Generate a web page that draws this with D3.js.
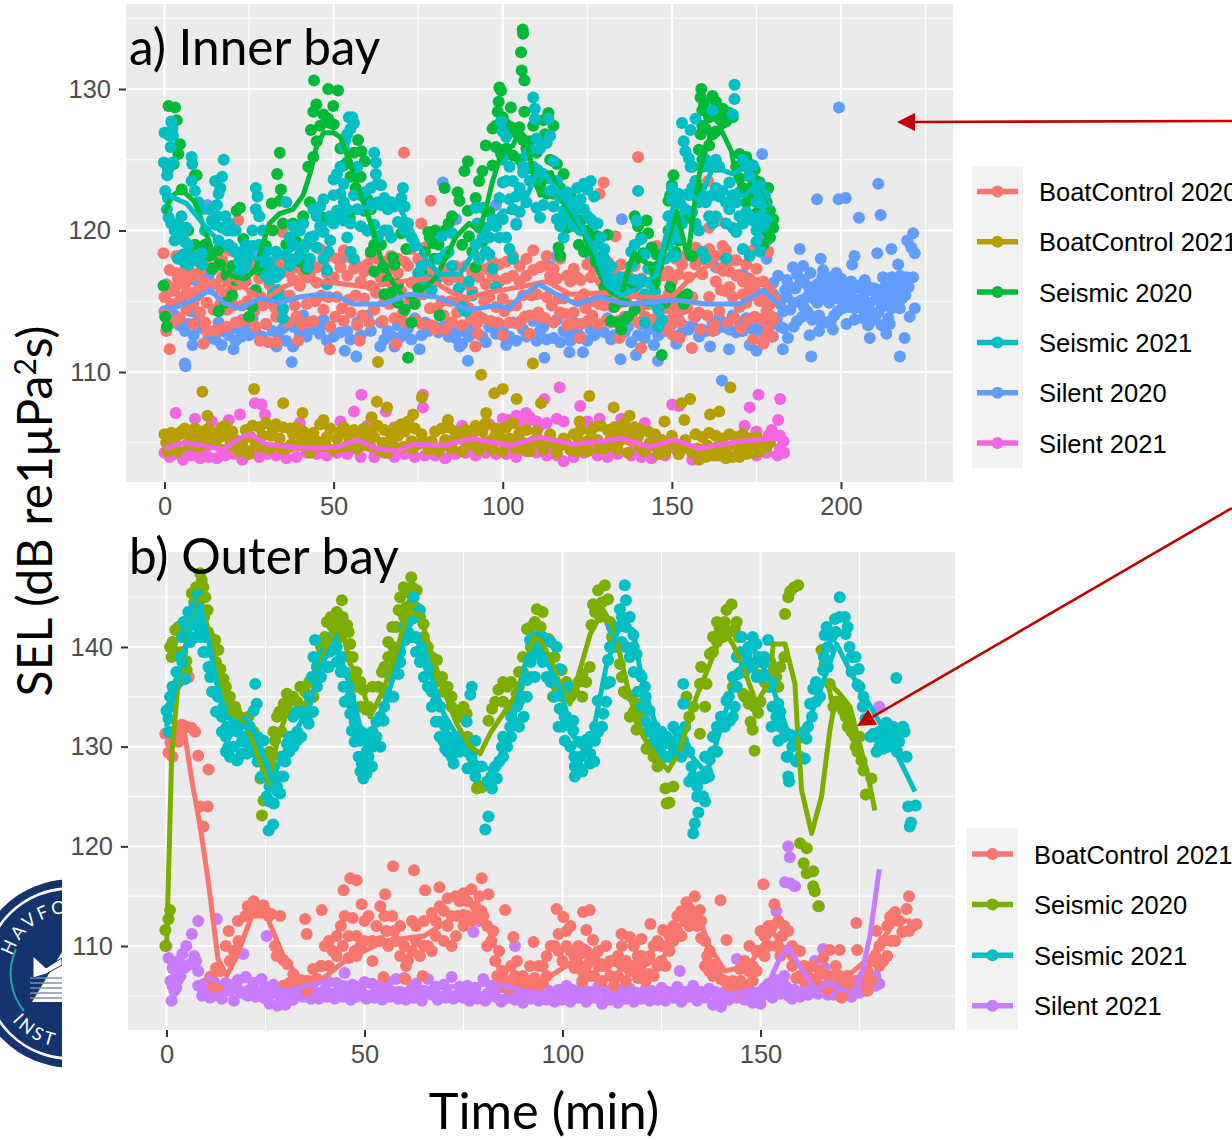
<!DOCTYPE html>
<html lang="en">
<head>
<meta charset="utf-8">
<title>SEL over time, inner and outer bay</title>
<style>
  html, body { margin: 0; padding: 0; background: #fff; overflow: hidden; }
  svg { display: block; }
  .tick text { font-family: "Liberation Sans", Arial, sans-serif; fill: #4d4d4d; }
  .big { font-family: Lato, "Open Sans", sans-serif; fill: #000; }
  .leg { font-family: "Liberation Sans", Arial, sans-serif; fill: #000; font-size: 25.5px; }
</style>
</head>
<body>
<script src="https://cdn.jsdelivr.net/npm/d3@7"></script>
<script>
// tick labels
var innerXTicks = [0, 50, 100, 150, 200], innerXMinor = [25, 75, 125, 175, 225];
var innerYTicks = [110, 120, 130], innerYMinor = [105, 115, 125, 135];
var outerXTicks = [0, 50, 100, 150], outerXMinor = [25, 75, 125, 175];
var outerYTicks = [110, 120, 130, 140], outerYMinor = [105, 115, 125, 135, 145];

// legend labels
var innerCategories = ["BoatControl 2020", "BoatControl 2021", "Seismic 2020", "Seismic 2021", "Silent 2020", "Silent 2021"];
var innerColours = ["#F8766D", "#B79F00", "#00BA38", "#00BFC4", "#619CFF", "#F564E3"];
var outerCategories = ["BoatControl 2021", "Seismic 2020", "Seismic 2021", "Silent 2021"];
var outerColours = ["#F8766D", "#7CAE00", "#00BFC4", "#C77CFF"];

// a) Inner bay, points as [min, dB]
var innerSilent21 = [[3.3,107.1],[9,106.7],[26.7,107.8],[28.7,107.7],[29.7,107],[22.3,107],[58.2,108.4],[56,107.2],[65.4,107.2],[76.4,108.4],[76.4,107.5],[106.9,107.1],
[116.8,108.9],[112.3,108.1],[122.9,107.6],[128.6,106.7],[135,106.7],[150.1,107.7],[152.1,107.6],[175.6,108.4],[182,108.1],[173,107.5],[181.4,106.6],[171.5,106.2],[175,105.8],[178.5,105.5],
[182,105.5],[183,105.1],[182,104.6],[183.2,104.3],[181.2,104.1],[179.5,105.9],[0,104.3],[1.5,104],[3,104.2],[5.5,103.8],[8,104.1],[10.5,103.9],[13,104],[15.5,103.9],[18,104.1],[20.5,104.2],
[23,103.8],[25.5,104.3],[28,104],[30.5,104.2],[33,104.1],[36,103.9],[39,104],[42,104.3],[45,104.2],[48,104.1],[51,104.3],[54,104.2],[58,104],[62,104],[65,104.3],[68,104],[71,104.2],[74,104],
[77,104.1],[80,104.1],[83,103.9],[86,104.2],[89,104.3],[92,104.1],[95,104.3],[98,104.2],[101,104.2],[104,104],[107,104.4],[110,104.3],[113,104.1],[116,104.1],[118,103.7],[121,104],[124,104.3],
[128,104.1],[131,104],[134,104.2],[138,104.1],[141,104],[144,103.9],[148,104.1],[152,104.2],[156,103.8],[159,104.2],[163,104.1],[167,104],[171,104.2],[175,104.1],[178,104.3],[40,106.4],[52,106.5],
[60,106.2],[68,106.1],[88,106.2],[96,106.3],[102,106.6],[105,106.3],[108,106.8],[110,106.5],[113,106.4],[118,106.5],[125,106.5],[142,106.4],[19,106.6],[14,106.5],[6,105.8],
[2,104.6],[7,104.5],[12,104.6],[17,104.5],[22,104.7],[27,104.6],[32,104.5],[37,104.7],[44,104.6],[50,104.5],[56,104.6],[61,104.7],[67,104.5],[72,104.6],[79,104.7],[85,104.5],[91,104.6],[97,104.7],[103,104.6],[109,104.5],[115,104.7],[120,104.5],[126,104.6],[133,104.5],[139,104.6],[146,104.5],[151,104.6],[158,104.5],[165,104.6],[170,104.5],[177,104.8],[104,106.9],[100,106.7],[107,106.5],[111,106.2],[116,106.7]];
var innerBoat20 = [[11.2,108.6],[26.5,108.8],[35.1,107.8],[12.7,106.9],[40.8,107.1],[63.1,110.7],[62.8,107.9],[65.8,107.5],[61.2,106.8],[76.1,108.2],[73.5,107],[93.6,109.8],[97.5,108.5],[100,108.8],[104.1,108.1],
[95.1,107.1],[83.8,106.6],[108.9,110.6],[125.6,108.3],[132.8,107.5],[137.5,106.9],[122.7,106.5],[167.3,108.9],[161.3,107],[164,107.2],[155.4,108.1],[152.8,107.8],[147.8,106.5],[153.7,106.6],[111.3,107.8],
[0,105.6],[0.5,105],[1,104.4],[2,105.7],[3,105.1],[4,104.4],[5,105.8],[6,106],[7,105],[8,105.4],[9,106],[10,104.7],[11,105.8],[12,105.3],[13,106],[14,105.6],[15,105],[16,105.8],[17,106.1],[18,106.2],[19,105.4],
[20,105.8],[22,104.4],[24,105.9],[25,104.2],[26,106.2],[27,105],[28,106.1],[29,105.5],[30,106.4],[31,104.6],[32,105.9],[33,106.3],[34,105.3],[35,106.1],[36,104.6],[37,106],[38,105.6],[39,106.1],[40,104.9],[41,105.8],
[43,104.3],[45,105.1],[46,106.3],[47,106.6],[48,105.4],[49,106],[50,104.5],[52,105.8],[53,106.1],[54,104.8],[55,105.5],[56,105.9],[57,104.6],[58,105.7],[59,106],[60,104.9],[61,105.8],[62,105.4],[63,106.2],[64,104.4],
[65,105.9],[66,104.3],[67,105.4],[68,106],[69,105.5],[70,106.3],[71,105.8],[72,106.5],[73,105.1],[74,106],[75,104.9],[76,105.6],[78,104.5],[80,105.8],[81,104.4],[82,106],[83,105.2],[84,106.1],[85,104.6],[86,105.8],[87,105.4],
[88,104.4],[89,105.9],[90,104.9],[91,105.6],[92,106.2],[93,104.5],[94,105.8],[95,106.4],[96,105.1],[97,104.5],[98,106],[99,105.5],[100,104.4],[101,106.1],[102,105.3],[103,106.4],[104,104.6],[105,105.7],[106,105],[107,105.9],
[108,104.4],[110,105.8],[112,104.5],[114,105.6],[116,104.3],[118,105.3],[120,104.5],[121,105.6],[122,104.4],[123,105.9],[124,105],[125,104.4],[126,105.8],[127,106.1],[128,105.2],[129,106.2],[130,104.6],[131,105.9],[132,105.4],
[133,106.1],[134,104.5],[135,105.7],[136,106.4],[137,104.3],[138,105.9],[139,106.1],[140,105.4],[141,105.9],[142,104.4],[143,105.8],[144,104.8],[145,105.6],[146,104.2],[147,105.2],[148,104.3],[150,105.5],[152,104.2],[154,105.2],
[156,104.3],[157,105.6],[158,103.8],[159,105.4],[160,104],[161,105.7],[162,104.1],[163,105.5],[164,104.1],[165,105.3],[166,103.9],[167,105.6],[168,104],[169,105.4],[170,104],[171,105.6],[172,104.2],[173,105.3],[174,104.3],[175,105.4],[176,104.4],[177,105],[178,104.7],[179,105],
[1.5,105.3],[4.5,105.6],[7.5,105.8],[10.5,105.2],[13.5,105],[16.5,105.4],[19.5,104.9],[21,105.2],[23,105],[25.5,105.4],[28.5,104.7],[31.5,105.5],[34.5,104.6],[37.5,104.9],[40.5,105.5],[42,105.2],[44,105.7],[47.5,105],[51,105.3],[54.5,105.4],[57.5,105.1],[60.5,105.2],[64.5,105],[67.5,104.8],[70.5,104.7],[73.5,104.6],[77,105],[79,105.1],[82.5,104.8],[85.5,105.2],[88.5,105.2],[91.5,104.8],[94.5,105],[97.5,105.4],[100.5,105.1],[103.5,105.2],[106.5,104.5],[109,105.1],[111,105],[113,105.1],[115,105],[117,104.8],[119,104.9],[122.5,105.2],[125.5,105.2],[128.5,104.6],[131.5,104.9],[134.5,105.1],[137.5,105.2],[140.5,104.7],[143.5,105],[146.5,105],[149,104.8],[151,104.9],[153,104.6],[155,104.6],[157.5,104.6],[160.5,104.8],[163.5,104.7],[166.5,104.7],[169.5,104.7],[172.5,104.7],[175.5,104.8]];
var innerSilent20 = [[199.4,128.7],[192.9,122.2],[199.3,122.2],[201.4,122.3],[211,123.3],[205.3,120.9],[211.7,121.1],[221.3,119.8],[219.6,119.3],[220.8,118.8],[221.8,118.4],[214.9,118.7],[210.7,118.4],[216.9,117.6],[204,118.2],[203.3,117.6],
[194,118],[187.8,118.7],[188.8,117.5],[185.8,117.4],[194.7,117.2],[181.4,116.8],[198.6,117],[207,116.5],[212.4,116.7],[215,116.7],[217.5,116.8],[219.5,116.7],[221.3,116.7],[220,116],[218,116],[219,115.4],[216.5,115.5],[221.8,114.5],[220.3,113.9],
[217.4,114.5],[214.4,113.4],[213.4,112.7],[218.8,112.4],[217.4,111.1],[208.5,112.4],[201.6,113.4],[197.6,113],[193.5,112.9],[190.7,112.6],[191.2,111.1],[182.8,111.6],[184.3,112.4],[179.9,112.5],[175,111.5],[173,111.9],[166.9,111.6],[161.3,111.8],
[164.8,109.4],[151.3,112],[145.9,110.8],[144.7,111.9],[139.4,111.2],[134.8,110.9],[123.7,111.4],[119.7,111.4],[112.3,111],[135.2,120.8],[176.7,125.4],[6,110.6],[6.2,110.4],[8.6,112.6],[8.3,111.9],[16.9,111.9],[20.4,111.6],[22.8,112.5],[33.1,111.8],[37.6,110.7],
[38,111.8],[45.9,112.7],[53.3,111.5],[56.7,111.1],[63.8,111.8],[68,111.8],[75.4,111.6],[87.2,111.8],[89.7,110.8],[88.2,112.9],[101,111.9],[82.3,123.4],[86.2,120.8],[98,121.8],[12.7,121.8],
[0,114.3],[0.5,116.2],[1.5,113.5],[3,114],[4.5,113.3],[5,115.2],[7,113.4],[9,116.5],[11,113.1],[12,117],[13,116.8],[14,117.2],[16,113.5],[18,112.9],[20,113.2],[22,113],[24,113.3],[26,113.8],[28,118.5],[30,113.4],[35,113.1],[39,113.5],[41,114],[43,113],[47,113.7],[49,113.2],
[52,117.9],[54,112.9],[57,113.5],[60,114],[62,114.5],[64,113.5],[66,112.9],[70,112.5],[72,113.1],[74,113.8],[78,112.9],[80,113.2],[83,113.4],[85,113],[90,112.5],[93,113.9],[96,113.2],[99,113.4],[103,113.5],[106,113],[109,113.6],[112,113.2],[114,117.5],[116,113.7],[118,112.9],
[121,113.5],[123,112.5],[126,113],[128,112.8],[131,113.8],[133,112.6],[136,112.8],[138,112.1],[141,113.4],[143,113],[147,113.4],[149,113.6],[152,113.7],[154,113.2],[157,113.9],[159,113],[162,113.5],[164,113.8],[168,114],[170,113.5],[172,113.8],[174,113],[176,112.9],[177,113.8],
[178,114.9],[179,113.3],[180,115.5],[181,113.8],[182,114.8],[183,113.1],[183.5,115.8],[184,116.5],[185,114.4],[186,113.2],[186.5,115.9],[187,116.9],[188,115],[188.5,113.9],[189,116.5],[190,114.3],[190.5,116],[191,117],[191.5,113.7],[192,115.2],[193,116.2],[193.5,114],[194,115.7],
[194.5,116.7],[195,115.2],[195.5,113.5],[196,116.2],[196.5,114.9],[197,116.7],[197.5,115.4],[198,114],[198.5,116],[199,115.2],[200,115.9],[200.5,114.5],[201,116],[202,115.3],[202.5,114.6],[203,115.6],[204,113.7],[204.5,115],[205,116.1],[206,114.9],[206.5,113.8],[207,115.6],[208,113.3],
[208.5,114.9],[209,115.9],[210,113.7],[210.5,115.2],[211,114.2],[212,113.3],[212.5,115.5],[213,116],[214,113.8],[214.5,115.6],[215,114.5],[216,116.2],[216.5,115],[217,116.4],[218,115.2],[166,117.5],[178,118],[176.5,119.6],[178,119.3],[104,120.5],[116,118.2],[126,118.1],[171,116.9],[163,117.4],[127,119.7],
[2,114],[4,114.9],[6,112.9],[8,114.3],[10,113.7],[13,112.4],[15,112.3],[17,112.9],[19,112.6],[21,112.2],[23,113.7],[25,112.6],[27,112.8],[29,112.5],[32,112.9],[34,112.4],[36,112.2],[38,113.2],[40,112.7],[42,112.5],[44,113.4],[46,113.2],[48,112.2],[50,112.5],[52,112.8],[55,112.3],[58,112.6],[61,112.9],[65,112.3],[67,112.6],[69,113.3],[71,112.7],[73,112.3],[76,112.6],[77,113.5],[81,112.8],[84,112.5],[86,112.4],[88,112],[91,113],[94,112.5],[95,112.1],[98,112.7],[100,113],[102,112.5],[104,112.2],[107,112.5],[110,112.2],[111,112.9],[113,112.3],[115,112.4],[117,112.1],[119,112.8],[120,112.2],[122,112.8],[125,112.2],[127,112.6],[130,112.8],[132,112.3],[135,113.6],[137,113.2],[140,112.6],[142,112.4],[144,113.1],[146,112.6],[148,112.9],[150,113.4],[153,112.8],[155,113],[156,113.3],[158,112.5],[160,112.9],[163,113],[165,113.2],[167,113],[169,112.8],[171,112.9],[173,113.3],[175,113.3],
[180,116.3],[181,115.2],[182,113.2],[183,114.3],[184,115.3],[185,116],[186,114.9],[187,113.6],[188,116.3],[189,114.6],[190,115.3],[191,115.8],[192,113.9],[193,114.9],[194,113.6],[195,116.3],[196,115.4],[197,113.6],[198,116.6],[199,114.3],[200,116.6],[201,114.9],[202,116.2],[203,116.4],[204,114.5],[205,115.1],[206,115.9],[207,114.2],[208,116],[209,114.2],[210,115.9],[211,115.4],[212,114.6],[213,114.8],[214,115],[215,115.7],[216,114.7],[217,115.5],[218,116.5],[219,116.4]];
var innerBoat21 = [[-0.3,118.4],[1.5,111.6],[70.8,125.5],[78.7,122.1],[75.9,120.5],[21.8,120.7],[17.4,120.2],[34.9,119.9],[48.9,111.6],[39.5,112.2],[28.2,112.2],[30.7,112.1],[33.1,112.1],[11.5,112],[57.7,112.2],[68.5,112],[92.6,112.7],[91.9,111.8],[100,112.6],[107.9,112.7],[105.4,113.6],
[140,125.2],[129.8,123.4],[128.6,122.6],[133.3,119.6],[160.7,123.5],[163.7,120.7],[161,120.2],[145.4,118.9],[166,118.6],[167.5,117.9],[172,117.6],[174,118.6],[122.7,112.4],[134.5,112.4],[140.9,111.7],[155.9,111.7],[162.1,112.9],[174,112.3],[177,112],[150.3,112.6],[152.3,112.4],[150.1,113.5],
[0,115.3],[0.5,112.9],[1,116.1],[2,114.8],[3,115.9],[3.5,118.2],[4,116.6],[4.5,115],[5,117],[6,116.2],[6.5,114.4],[7,117.4],[7.5,118.6],[8,115.5],[8.5,113.4],[9,116.9],[10,115.4],[11,118.8],[11.5,116.4],[12,113.5],[12.5,112.9],[13,115.9],[14,117.4],[14.5,112.9],[15,116.2],[16,113],[17,116.7],[18,115.5],
[18.5,113.2],[19,117.2],[20,115.9],[20.5,118.5],[21,113.5],[22,116.2],[23,114.7],[24,116.4],[25,113.7],[26,115.6],[27,113.2],[28,116.6],[29,114.7],[30,113.4],[31,116.2],[32,115.8],[33,113.9],[34,116.9],[35,114.4],[36,117.2],[37,115.4],[38,116.5],[39,113.9],[40,116.1],[41,117],[42,114.8],[43,116.8],[44,113.6],[45,116.3],
[46,118.7],[47,114.4],[48,117],[49,113.2],[50,116.7],[51,115.3],[52,117.4],[53,113.6],[54,116.8],[55,114.2],[56,117.3],[57,113.3],[58,116.4],[59,115.2],[60,117.6],[61,116.1],[62,114.4],[63,118],[64,116.6],[65,115],[66,117.2],[67,116.3],[68,113.8],[69,117],[70,115.7],[71,113.5],[72,117.5],[73,116.3],[74,115.1],[75,116.7],[76,113.4],
[77,117.6],[78,115.9],[79,113.3],[80,113],[81,116.7],[82,115],[83,113],[84,116.5],[85,113.5],[86,117.5],[87,115],[88,113.3],[89,116.2],[90,114.5],[91,115.7],[92,114.2],[93,116.7],[94,113.8],[95,116.2],[96,115.3],[97,117.8],[98,114.6],[99,116.4],[100,115.2],[101,116.6],[102,113.5],[103,116.8],[104,114.7],[105,117.5],[106,115.4],
[107,116.8],[108,114],[109,117.2],[110,115.5],[111,113.9],[112,117.5],[113,115.3],[114,116.8],[115,113.5],[116,116.6],[117,114.2],[118,115.2],[119,113.3],[120,116.4],[121,114.2],[122,116.7],[123,113.4],[124,115.5],[125,113.6],[126,116.7],[127,115],[128,113.4],[129,116.4],[130,114.7],[131,116.5],[132,113.5],[133,115.2],[134,113.6],
[135,116.4],[136,113.9],[137,115.5],[138,114],[139,116.3],[140,113.5],[141,115.3],[142,113.9],[143,114.8],[144,113.7],[145,115.7],[146,113.9],[147,116.8],[148,114.5],[149,115.5],[150,116.4],[151,114.7],[152,116.9],[153,114.4],[154,118.2],[155,116.7],[156,115.3],[157,117.6],[158,114.2],[159,116.9],[160,117.9],[161,115.3],[162,118],
[163,116.4],[164,114.3],[165,117.4],[166,115.7],[167,117.1],[168,115.3],[169,116.8],[170,114.6],[171,116.4],[172,114.9],[173,116.6],[174,115.4],[175,116.3],[176,115],[177,116.4],[178,114.3],[179,115.8],[180,113.7],[180.5,115.1],[179.5,113.9],
[1.5,117.2],[3.5,117],[5.5,118],[7.5,116.7],[9.5,118],[11,117.3],[13,118.3],[15,117.4],[17,117.9],[19,118.6],[21,117.5],[23,116.9],[25,117.1],[27,117.6],[29,116.8],[31,117.2],[33,117.6],[35,117.9],[37,117],[39,117.4],[41,118.2],[43,117.7],[45,117.4],[47,117.6],[49,118.2],[51,118],[53,118.6],[55,118.1],[57,117.5],[59,117.1],[61,118.3],[63,117],[65,117.8],[67,118.2],[69,118],[71,117.8],[73,118.7],[75,118],[77,118.8],[79,117.2],[81,118],[83,117.3],[85,116.8],[87,116.6],[89,117.5],[91,117],[93,118.1],[95,117.3],[97,116.8],[99,117.6],[101,117.8],[103,118.2],[105,116.4],[107,118],[109,118.6],[111,117.4],[113,118.2],[115,117.3],[117,118],[119,116.8],[121,117.3],[123,116.5],[125,117.6],[127,117.2],[129,118.1],[131,117.8],[133,117],[135,117.6],[137,116.8],[139,117.5],[141,116.6],[143,116.3],[145,117],[147,118.2],[149,117.1],[151,118],[153,117.6],[155,118.6],[157,118.8],[159,118],[161,118.7],[163,118.2],[165,118.9],[167,116],[169,117.9],[171,115.5],[173,115.8],[175,117.3],[177,115.4],[179,114.8],
[0.5,114.2],[2.5,113.5],[4.5,113.8],[6.5,115.6],[8.5,114.8],[10.5,114.2],[12.5,114.9],[14.5,114.4],[16.5,114.8],[18.5,114.4],[20.5,114.7],[22.5,113.6],[24.5,115],[26.5,114.3],[28.5,115.3],[30.5,114.9],[32.5,114.6],[34.5,115.5],[36.5,113.5],[38.5,114.7],[40.5,113.4],[42.5,113.5],[44.5,115],[46.5,115.4],[48.5,115.3],[50.5,113.9],[52.5,114.5],[54.5,115.1],[56.5,115.4],[58.5,114],[60.5,113.5],[62.5,115.6],[64.5,113.6],[66.5,114.8],[68.5,115.2],[70.5,114.2],[72.5,115],[74.5,113.6],[76.5,115.5],[78.5,114.5],[80.5,114.5],[82.5,114],[84.5,115],[86.5,114.2],[88.5,114.9],[90.5,113.7],[92.5,113.5],[94.5,115],[96.5,113.6],[98.5,113.5],[100.5,114.3],[102.5,114.7],[104.5,113.4],[106.5,113.9],[108.5,115.4],[110.5,114.2],[112.5,113.8],[114.5,114.7],[116.5,115.2],[118.5,114.1],[120.5,113.4],[122.5,115],[124.5,114.5],[126.5,114],[128.5,114.8],[130.5,113.6],[132.5,114.6],[134.5,114.9],[136.5,115],[138.5,115.6],[140.5,114.5],[142.5,115.2],[144.5,114.8],[146.5,113.2],[148.5,113],[150.5,114],[152.5,113.5],[154.5,114.5],[156.5,113.9],[158.5,113],[160.5,114],[162.5,113.3],[164.5,115.8],[166.5,113.5],[168.5,113.8],[170.5,113.1],[172.5,113.7],[174.5,113.9],[176.5,113.7],[178.5,113],[177.5,112.4],[179.5,112.5],[178.5,118.5]];
var innerSeis20 = [[1.2,128.8],[3.1,128.7],[3.6,127.8],[4.6,126.1],[4.1,125.4],[2.7,124.7],[9,123.9],[5.1,122.9],[-0.3,116.1],[0.2,113.9],[0.7,113.2],[44.2,130.6],[48.4,130],[51.3,129.9],[49.9,128.8],[44.9,128.9],[44,128.4],[48.4,127.9],[48.9,127.6],[43.3,127.1],[42.5,124.5],[44,125.2],[34.1,125.5],[33.3,124],[34.4,122.9],[34.1,122.1],
[22.3,121.6],[21.3,121.4],[31.7,121.9],[46.9,120.9],[54.8,120.9],[57.2,126.4],[58.2,125.6],[59.2,124.9],[9.5,123.9],[7,120],[15.9,118.6],[16.4,117.6],[23.3,119.4],[23,118.4],[18.4,116.8],[9,119],[10,118],[105.9,134.2],[106,133.9],[105.4,132.6],[105.6,131.3],[106.4,130.6],[99,130.1],[99.5,129.9],[98.8,129.1],[98.5,128.4],[102.4,128.7],
[98,127.4],[106.4,128.4],[104.9,127.3],[89.7,124.9],[88.7,124.2],[86.7,122.7],[87.2,122.1],[82.8,123],[89.7,121.4],[78.4,119.5],[78,119.9],[79.5,119.1],[79.8,118],[81.3,114],[73,113.5],[72,111],[74,114.8],[71,114.4],[69,116.2],[71.5,118.7],[70,119.8],[67.5,118.1],[64.6,117.4],
[16,114.3],[18,114.9],[20,115.4],[25,113.9],[26,114.6],[42,117.3],[40,117.8],[39,119.2],[62,117.1],[63,119.6],[66,116.5],[68,117.6],[60,122.2],[61,121.5],[56.5,123],[91,118.5],[92,117.4],[94,119.2],[96,121.3],[97,124.6],[99.5,125.4],[101,125.8],[102.5,127.3],[104,126.9],[107,125.8],[108,126.3],[110,125.5],[112,127.8],[112.5,126.8],
[114,125],[116,124.7],[115,127.4],[113.5,128.3],[118,124],[120,122.5],[122,121.7],[123,120.7],[125.5,119.4],[126,118.9],[127.5,117.8],[128.5,118.1],[129,117.3],[125,120],[119,120.2],[116.5,118.8],[117,118.2],[131,119.7],[132,113.6],[134,113.5],[135,113],[136,113.7],[137,113.9],[139,114.4],[143,119.8],[142.5,120.7],[139,121],
[140,120.3],[141,119.5],[141.5,118.4],[143.6,117.4],[145,116.3],[146,114.5],[147,111.2],[148,114.9],[149.5,116],[152,115.4],[153.5,114.8],[154.5,115.5],[151,118.5],[149,120],[149.5,122.5],[150,123.2],[150.5,123.9],[149,122.1],[156,118.2],[156,124.5],[158,125.7],[158.5,126.8],[159,127.4],[160,127.2],[159,128.5],[158.5,129.4],
[158.7,130],[159.5,129],[162,129.5],[163,129.1],[165,128.6],[166,128.4],[167,128.3],[164,127.9],[168,128],[166,127.7],[161,128],[165,127.6],[160,124.6],[163,124.5],[170,125.4],[172,125.2],[173,124.7],[174.5,124.3],[173,123.9],[175,123.5],[177,122.4],[178,122],[179,121.4],[180,120.8],[180,120.2],[178,120],[179,119.5],[177,119],[175,121.2],
[12,119],[13,118.2],[14,117.3],[20,117.5],[21,116.5],[24,117.7],[27,115.8],[28,117.2],[29,118],[30,118.9],[32,120],[35,120.5],[36,119],[37,118],[38,120.5],[41,121],[43,122],[45,126.3],[46,127.4],[47,128.2],[50,127.5],[52,125.8],[53,124.6],[54,124.8],[55,123.8],[56,125.5],[58,123.8],[59,121.4],[60,120],[61,118.5],[62,119],[64,119],[65,115.5],[67,115.6],[69,114.9],[75,115.9],[76,117],[77,118.5],[80,120],[81,119],[83,120],[84,120.5],[85,121],[88,119],[90,119.6],[92,122.3],[93,123.5],[94,124.2],[95,126],[97,127.2],[98,125.9],[100,128],[101,127.5],[103,125.3],[105,125],[106,126.4],[107.5,124.4],[109,127.4],[110,124],[111,123.5],[113,122.6],[115,122.6],[117,123],[119,122.5],[121,120.6],[122.5,119],[124,118.5],[128,119.6],[130,116],[130.5,115.5],[133,114.6],[136,115],[138,116],[139.5,118],[144,118.8],[145.5,118.3],[146,117.5],[151,120.5],[152,119.3],[155,120.9],[156.5,122.5],[157,123.5],[158,123],[159,125],[161,126],[162,126.8],[163,127],[169,124.5],[170,123.7],[171,123],[172,122],[176,120.5],[177,120.8],[178.5,123],[176,123.4],[174,122.5],[173,122.7]];
var innerSeis21 = [[0,126.9],[1.5,126.7],[2,127.7],[2.3,127.2],[2.5,126.7],[1.8,125.9],[2.4,124.8],[-0.2,124.8],[1,124.3],[0.8,123.9],[0.2,122.8],[1,122.3],[0.7,121.5],[1.2,120.9],[2,120.5],[3,120],[5,121],[5.2,119.7],[6.5,120.2],[8,125.2],[8.2,124.7],[8,123.5],[9,122.8],[10,122],[11,121.5],[3,119.3],[4,118],
[5.5,118.3],[6,117.7],[7,117.6],[11,118.4],[11.2,117.6],[15,120.4],[15.5,121.8],[16,122.6],[16.5,123],[15,123.5],[17,123.8],[17.5,125],[15.6,121],[17,120.2],[18.5,120],[19,119],[20,118.8],[21,118.5],[22,117.8],[22,117],[23,116.8],[24,117.5],[25,118.2],[26,118.9],[27,123],[27.5,122.4],[27,121.5],[28,121],[29,120],
[30,118.5],[31,117.6],[31,116.5],[32,117.2],[33,118.5],[33,116.7],[33.5,115.8],[34,115.2],[35,114.5],[35,113.8],[36,122],[37,119.5],[38,119],[39,118],[40,118.3],[41,118.6],[42,119],[42.5,117.4],[43,118],[44,121.5],[45,121],[46,121.7],[47,122.2],[47,119.9],[48,117.2],[48,116.2],[48.5,118.5],[49,119.3],[50,122.5],[51,124],
[50,123.6],[52,124.5],[53,125.9],[54,126.8],[54.5,128],[55.5,128],[56,127.6],[55,127.2],[53.5,126.4],[53,123.3],[53,122],[54,119.5],[55,118.5],[56,118],[57,124.5],[58,122.5],[60,121.5],[61,121.8],[62,125.5],[62.5,124.8],[62.5,124],[63,123.3],[63,122],[64,121.8],[65,120],[66,120],[67,119.5],[70,122.3],[70.5,123],[71,121.7],
[72,120.5],[73,119.5],[74,118.9],[76,117.5],[77,116.5],[80,116.4],[82,119.6],[84,118.5],[85,117.5],[87,115.9],[88,114.6],[89,114.3],[90,116.4],[91,115.4],[92,121.6],[92.5,120.5],[93,120.2],[94,119.5],[95,118.5],[96,118.3],[97,117.3],[98,116],[100,120.8],[101,119.5],[102,118.7],[103,118],[99.5,127.7],[100,127],[101,126.6],
[100,125],[102,124.5],[103,123.5],[104,122.4],[105,123],[106,124.5],[107,125.3],[108,125.7],[109,129.4],[109.5,128.6],[109.5,127.9],[106,124.1],[110,121.6],[111,120.9],[112,121.8],[113,126.2],[113.5,127.9],[114,126.7],[115,124.9],[116,123.5],[117,122.3],[118,121.4],[119,120.9],[120,122],[121,122],[122,121.5],[123,122.2],
[124,121.5],[125,122.9],[126,123.5],[127,122.4],[128,120.5],[129,119.5],[130,118.7],[130,118],[131,117],[132,116.4],[134,116],[136,115.7],[138,117.5],[139,119],[139.5,120.7],[138,118.5],[140,122.8],[141,119.4],[142,118.3],[143,117.3],[144,116.2],[144,115],[146,114.4],[147,113.7],[142,113.5],[146,113.2],[150,123],[150,122.2],
[149,121],[150,119.5],[151,120],[152,121],[152.5,121.9],[152,122.6],[153,127.6],[153.5,126.3],[154,125.6],[155,125.1],[155.5,124.5],[155.5,127.1],[157,127.9],[156,121.3],[157,120.5],[158,120],[159,118.5],[160,118],[159,122.3],[161,122.4],[162,122.5],[163,123],[161,124.5],[164,122.4],[162,128.5],[167,121.5],[168,120.2],[169,119.9],
[166,118],[170,121],[171,118.7],[168,128.2],[168.5,129.3],[168.5,130.3],[171,125],[172,124.5],[173,123.8],[171,122.7],[174,124.6],[175,122],[176,122.4],[177,121.8],[178,121.7],[174,120.7],[175,120],[175,119.2],[176,118.5],[173,118.2],[177.5,122.5],[176,123.2],
[4,120.5],[6,119.2],[7,119],[8,118.2],[9,118],[10,117.8],[12,120],[13,121.5],[14,120.7],[16,119.3],[18,121],[19,120.5],[20,120],[21,120],[23,118.5],[24,119],[26,120],[28,119],[29,117.8],[30,116.8],[32,115.5],[34,117],[36,118.3],[37,117.5],[38,120.3],[39,120],[40,120],[41,120.5],[43,119.5],[44,119.6],[45,118.8],[46,120.3],[47,118],[49,121],[50,120.5],[51,121.4],[52,122.6],[53,120.7],[54,121.5],[55,120.5],[56,122.5],[57,121.5],[58,120.3],[59,122.7],[60,120],[61,123],[62,120.4],[63,119.5],[64,123.2],[65,122.3],[66,121.5],[67,122],[68,121.7],[69,120.6],[70,120.5],[71,120],[75,117],[78,116.5],[79,115.8],[81,118],[83,118.3],[85,119.8],[92,119],[93,118],[94,121.6],[95,120.2],[96,119.5],[97,120.8],[98,120.3],[99,119.5],[99,122.3],[100,123.4],[101,123.5],[102,122.2],[103,121.5],[104,120.4],[105,121.3],[106,122.5],[107,122],[108,123.5],[109,124.5],[110,126.5],[111,125.8],[111,123.2],[112,124],[113,123.7],[114,122.8],[115,121.7],[116,120.8],[117,120.3],[118,119.5],[119,122.7],[120,120.8],[121,120.3],[122,123],[123,120],[124,123.3],[125,121],[126,120.8],[127,120.5],[128,119],[129,117.8],[130,117],[132,117.5],[133,116.5],[135,116.7],[137,116.6],[139,116.5],[141,116.5],[142,115.5],[143,115],[145,115.7],[148,118],[149,119],[150,118.2],[151,118.2],[152,119.5],[153,120.5],[154,121.5],[155,122.5],[156,123],[157,123.5],[158,122],[159,124.5],[160,125],[160,122],[161,121],[162,120.5],[163,121],[163,125],[164,124.5],[165,122.8],[166,122],[166,120.5],[167,123.4],[168,122.5],[169,122],[170,122.7],[171,120.5],[172,121.3],[173,121],[174,123],[175,123],[176,121],[177,120.3],[178,120.8]];
var innerBoat20Line = [[0,104.4],[10,104.7],[20,104.6],[30,104.7],[40,104.6],[50,104.5],[60,104.6],[65,104.3]];
var innerBoat21Line = [[0,115.5],[5,115.5],[10,116],[15,115.5],[20,116.7],[25,115.7],[30,115.2],[35,116],[40,116.5],[50,116.3],[60,116],[70,116.4],[78,116.6],[85,115.6],[90,115.2],[95,115.6],[100,115.8],[105,116],[113,116.4],[120,115.5],[130,115.6],[140,115.3],[150,115.3],[155,116.5],[161,117.6],[165,116.9],[170,117.1],[175,116],[179,114.4]];
var innerSeis20Line = [[0,121.2],[2,122.4],[5,122.9],[9,122],[12,120],[15,118],[18,117],[21,116.7],[24,116.6],[27,117.3],[29,119],[31,120.5],[34,121.2],[38,121.5],[41,122.5],[43,124],[45,126],[47,126.9],[50,126.9],[52,126.6],[55,124.6],[58,122.5],[61,120.5],[64,118],[67,116.5],[70,115.5],[73,115.2],[77,116],[80,116.6],[83,118],[86,119.5],[90,120.5],[93,120],[95,121.5],[97,123.5],[99,125],[101,125.7],[103,126],[105,127],[107,126.5],[109,124],[111,122.5],[113,124],[114.3,124.1],[117.3,122.2],[123.7,120],[125.7,118.6],[128.6,116.9],[132,115.6],[135,115.3],[137.5,117.6],[138.9,118.4],[141,117.9],[143.4,117.6],[145.4,116],[147,117.9],[151.3,121.4],[154.7,118.1],[156.7,121.9],[158.7,124.7],[161,126.4],[164.6,127.1],[167.6,125.6],[169,123.8],[171,122.8],[174,123.5],[179,121.4]];
var innerSeis21Line = [[0,122.6],[6.6,121.9],[13,120],[19,118.6],[25,118],[33,118],[40,119],[48,120.5],[56,121.5],[63,121.8],[69.5,121.6],[73.5,119.8],[77.4,117.9],[81.3,116.9],[87.2,116.9],[91,118.3],[95,120],[100,121.4],[105,121.2],[110.8,124.5],[114,123.5],[120.7,121.4],[127.6,118.4],[130.6,116.2],[135,115.4],[140,115.9],[145.4,116.9],[150.3,121.6],[154.2,122.8],[158.2,122.1],[162.1,124.5],[168,124],[172,124.5],[178,121.6]];
var innerSilent20Line = [[0,114.5],[3.6,114.6],[8.6,115.1],[13.5,115.8],[17.4,114.9],[22.4,114.5],[28.2,115.2],[34.1,114.9],[40,115.3],[46,115.5],[50.8,115.4],[55.8,114.8],[64.6,114.8],[72.5,115.5],[80.3,115.3],[90.2,114.4],[98,114.7],[102,114.5],[105,115.3],[110.8,116.2],[115.8,115.5],[121.7,114.8],[128.6,115.3],[136.5,114.8],[143.4,114.9],[150.3,115.1],[160,114.8],[170,114.8],[177,115.8],[180,115.1],[184,114.5],[188,115.3],[196,115.5],[200.6,116.7],[207.5,115.5],[214,115.8],[220,115.4]];
var innerSilent21Line = [[0,104.6],[5.6,105],[11.5,104.8],[17.4,104.5],[21.3,105.2],[25.3,105.6],[30.2,104.9],[42,104.6],[51,104.7],[57,105.2],[62.6,104.6],[68.5,104.4],[73.5,104.9],[82.4,104.8],[91,105.3],[102,104.8],[110.8,105.4],[120.7,104.9],[135.5,105.3],[143.4,104.7],[150.8,105.2],[158,104.6],[170,105.1],[181,105.3]];

// b) Outer bay
var outerSilent21 = [[0,110],[0.5,108.8],[1.3,104.5],[1,106.5],[1.5,107.8],[2.5,107.3],[3,108.5],[4,109.2],[5,110],[6.4,111.2],[8,112.5],[12.7,112.7],[7,109],[7.5,108.5],[5,108],[8,107.5],[25.3,111],[19.4,109.2],[78.8,112.5],[77.5,111.4],[88,110],[105.2,109.7],[129.6,107.5],[144,108.7],[157,120],[157.4,118.9],[156.2,116.4],[158.7,116],[157.5,116.3],[164.8,114],[180,134],[154,113.5],[165.8,109.7],[163.7,108.5],[166.2,107.8],
[2,105.5],[3,106.7],[8,106],[9,105],[10,105.7],[11,104.8],[12,106.4],[13,105],[14,104.7],[15,106.3],[16,105.5],[17,104.5],[18,106.6],[19,105.3],[20,106.9],[21,105.6],[22,106.3],[23,105.4],[24,106.7],[25,105.9],[26,104.2],[27,106.1],[28,104],[29,105.6],[30,104.1],[31,105.2],[32,104.6],[33,105.8],[34,105.4],[35,106.2],[36,105.4],[37,106.3],[38,105.3],[39,108],[40,105.6],[41,106.4],[42,105.2],[43,106.3],[44,105.9],[45,107.3],[46,105.4],[47,106.1],[48,104.9],[49,105.6],[50,106.4],[51,105],
[52,106.2],[53,105.3],[54,106.1],[55,105.2],[56,106.4],[57,105],[58,106.7],[59,105.4],[60,106.8],[61,105.1],[62,105.9],[63,106.2],[64,105],[65,105.5],[66,106.7],[67,105.1],[68,105.9],[69,104.9],[70,106.1],[71,105.2],[72,106.9],[73,105],[74,105.9],[75,104.8],[76,106],[77,105],[78,105.8],[79,104.9],[80,106.7],[81,105.2],[82,106],[83,104.9],[84,105.8],[85,104.6],[86,106.4],[87,105],[88,104.6],[89,105.6],[90,104.3],[91,105.4],[92,104.7],[93,105.9],[94,104.5],[95,106.1],[96,104.6],[97,105.2],[98,104.4],[99,105.6],[100,104.6],[101,106],
[102,104.4],[103,105.3],[104,104.8],[105,106.2],[106,104.4],[107,105.4],[108,104.8],[109,105.9],[110,104.2],[111,105],[112,104.6],[113,105.6],[114,104.3],[115,105.1],[116,104.7],[117,105.7],[118,104.4],[119,105.2],[120,104.7],[121,105.7],[122,104.5],[123,105.2],[124,104.6],[125,105.8],[126,104.5],[127,105],[128,104.8],[129,105.9],[130,104.4],[131,105.4],[132,104.9],[133,106],[134,104.5],[135,105.4],[136,104.8],[137,105.7],[138,104.1],[139,105],[140,103.9],[141,105.4],[142,104.6],[143,105.9],[144,104.8],[145,105.2],[146,104.6],[147,105.7],[148,104.3],[149,105],[150,104.2],[151,105.8],[152,106.2],[153,104.8],[154,106.6],[155,105.2],[156,107],[157,105],
[158,104.7],[159,105.2],[160,104.9],[161,105.5],[162,105.1],[163,105.6],[164,106.3],[165,105.4],[166,107.2],[167,105.1],[168,106.3],[169,105.5],[170,106.7],[171,105.1],[172,107],[173,104.9],[174,106.5],[175,105.3],[176,107],[177,105.8],[178,106.7],[179,106],[180,106.2],
[1.5,106],[2.5,105.8],[3.5,107],[4.5,107.8],[6,108.2],[9.5,106.2],[10.5,105],[12.5,105.5],[14.5,105.8],[16.5,106],[18.5,105.5],[20.5,105],[22.5,104.9],[24.5,104.8],[26.5,105.2],[28.5,105],[30.5,105],[32.5,105.1],[34.5,104.9],[36.5,104.7],[38.5,104.7],[40.5,104.9],[42.5,104.7],[44.5,104.9],[46.5,104.6],[48.5,105.9],[50.5,104.7],[52.5,104.8],[54.5,104.6],[56.5,104.9],[58.5,104.7],[60.5,104.6],[62.5,104.8],[64.5,104.5],[66.5,105.4],[68.5,104.6],[70.5,104.8],[72.5,104.7],[74.5,105.5],[76.5,104.5],[78.5,104.7],[80.5,104.5],[82.5,105.2],[84.5,104.4],[86.5,104.8],[88.5,105.4],[90.5,105.2],[92.5,105.4],[94.5,105.2],[96.5,105.5],[98.5,105.3],[100.5,105.3],[102.5,105.6],[104.5,105.3],[106.5,105.4],[108.5,105.4],[110.5,105.6],[112.5,105.2],[114.5,105.6],[116.5,105.4],[118.5,105.3],[120.5,105.2],[122.5,105.5],[124.5,105.3],[126.5,105.4],[128.5,105.5],[130.5,105.1],[132.5,105.3],[134.5,105.2],[136.5,105.3],[138.5,105.4],[140.5,104.7],[142.5,105.4],[144.5,105.4],[146.5,105.2],[148.5,105.3],[150.5,105],[152.5,105.5],[154.5,105.9],[156.5,105.9],[158.5,105.6],[160.5,105.4],[164.5,105.2],[168.5,105.1],[172.5,105.8],[176.5,105.5],[179,107]];
var outerBoat21 = [[-0.3,131.3],[0.5,129.4],[5.6,137],[3.9,132.2],[5,132],[7.2,131.5],[8,129.1],[10.6,127.7],[8.5,124],[10.4,124],[9.3,122],[1,130.4],[2.5,131.7],[6.3,131.9],[3,130.5],[1.5,129],[3.5,131.5],[11.9,105.9],[11,106.9],[13.6,107.5],[12.5,107.8],[11.5,107],[13,105.9],[15.7,111.5],[15,110],[16,108.5],[17,109.5],[18.2,110.5],[18,112.5],[19.9,113],[20.5,114],[21,113.2],[22,114.5],[23,113.4],[24.5,114.1],[25,113.5],[28.7,113],[25.8,113],[26.5,113.2],[27.4,110],[27.8,109],[29.5,108.6],[30.5,108.2],[32,107.2],[31,106.3],[29.5,106],[33,106.5],[34,106.2],[35.4,105.5],[36,106.5],[38,106.7],[37,107.7],[39,108],[41,108],
[39.2,113.6],[35,112.7],[35.4,111.2],[46.4,116.8],[48,116.6],[44.7,115.6],[49.3,114.2],[55.2,115.2],[57.2,118],[62.5,117.6],[65.3,115.6],[68.9,115.9],[79.6,116.8],[81.3,115.2],[85.5,113.6],[87.6,110.9],[92.7,110.4],[91.8,108],[73.1,111],[64.7,107],[60.3,106.7],[54.8,106.9],[40,110],[42,109.5],[43,111],[44,112],[45,113],[46,111],[47,112.8],[47.5,109.5],[48,111],[49,110],[50,112.5],[51,113],[52,110.5],[53,112],[54,114],[55,113],[56,110],[57,113],[58,110.5],[59,112],[60,110],[61,108.6],[62,112.5],[63,110.5],[64,109],[65,112.5],[66,110],[67,113.3],[68,111],[69,114],[70,113.5],[71,114.8],[72,113],[73,115],[74,114.5],[75,115.3],[76,114.5],[77,115.7],[78,114],[79,115],[80,113],[81,112],[82,110.5],[83,108.5],[84,109.5],[85,107.5],[86,106.5],[87,105.8],[88,107],[89,106],[90,107],[91,106],[93,106.8],[94,108],[95,106.3],[96,107],[97,110],
[98.5,113.7],[100.2,112.9],[105.2,113.4],[106.9,113.6],[106,111.6],[107.7,110.6],[99,111.2],[101,111.5],[102,109.5],[103,109],[104,108.2],[105,107.5],[106,108],[107,107],[108,109],[109,109.5],[110,106.5],[111,108],[112,108.5],[113,106],[114,109],[114.9,111.2],[115,108],[116,106.5],[117,110.9],[118,108],[119,109],[119.9,110.7],[120,107.5],[121,106.5],[122.2,112.2],[122,109],[123,107],[124,110.5],[125.4,111.6],[125,108.5],[126,110],[127,111],[128,112],[129,113],[130,113.5],[131.3,114.4],[132,113.8],[133.4,115],[134.7,113.6],[135,112.5],[136,110.5],[136.5,109],[137.2,109.5],[138,108.1],[139.9,114.6],[141.4,110.6],[139,107.5],[140,106.7],[141,106.5],[142,106],[143,106.5],[144,105.5],[144.8,107.7],[146,106],[147,107.5],[147.2,110],[148,108],[149,109.5],[150,109.5],[150.7,116.2],[151,111],[152,112],[153.5,114.2],[154.5,112.5],[155.5,111],[156,112],[157,111.5],[158,108],[159,106.8],[160,109.5],[161,108],[162,107],[163,108],[164,106.7],[165,107.5],
[165.8,108.8],[167.5,109.6],[170,109.6],[168,106],[166.7,105.6],[170.5,104.8],[172,107],[173,106],[174.2,112.3],[174.4,109.6],[175,106.5],[177,107.5],[178,108.5],[179.3,111.5],[179,109],[180,110],[181,110.5],[182,112],[182.7,112.9],[183.5,113.2],[184,113.4],[185,112.5],[185.8,111.4],[186.9,113.7],[187.5,115],[187.5,111.5],[188.5,112],[189.4,112.2],
[41,110.5],[43,109],[44.5,110],[46,108.8],[48,109],[50,110.5],[52,108.5],[54,110.5],[55.5,111.5],[57.5,111.5],[59,109],[60.5,108],[62,109.5],[63,112],[65,110],[67,109.5],[68,112.5],[70,110.5],[71,112],[72,110],[73.5,113],[75,112],[76,113],[77,112.5],[78,113],[79.5,113.5],[81,110],[82.5,111.5],[83.5,107],[84.5,106.7],[85.5,105.8],[87,108],[88.5,108.5],[90,106.5],[92,106.5],[93.5,105.8],[95,108],[96,109],[98,110],[99,109.5],[100,108.5],[101,110],[102,112],[103,107.8],[104,110],[105,106.5],[106,109.5],[107,108.5],[108,107],[109,108],[110,108],[111,110],[112,107],[113,108.5],[114,107],[115,110],[116,108.5],[117,107.5],[118,110],[119,106.8],[120,109],[121,108.5],[122,107.2],[123,110],[124,108],[125,110],[126,108],[127,109.5],[128,110.5],[129,111.5],[130,111],[131,112.5],[132,112],[133,113],[134,112],[135,110.8],[136,108],[137,107.5],[138,107],[145,106.5],[146,108.5],[148,106.5],[149,107.5],[150,111.5],[151,109],[152,110],[153,112],[154,110],[155,109],[156,109.5],[157,109.5],[158,110],[159,109.5],[160,107],[161,106.5],[163,106.5],[165,106],[167,107],[169,108],[170,107],[171,106],[172,105.5],[176,107],[177,105.5],[178,106.5],[180,108],[181,108.5],[182,109],[183,110.5],[184,110.5]];
var outerSeis20 = [[-0.3,110],[-0.3,111.6],[0.5,112.7],[0.9,113.6],[1.3,139],[0.9,140],[2.2,141.7],[3.9,141],[6.4,145.4],[7,144.5],[8.5,147.4],[8.9,146.7],[9.3,146],[9.8,145],[10.4,143.7],[12.3,140.7],[13.1,139.7],[13.6,137.8],[14.4,136.8],[17.3,134],[17.6,133.5],[20.7,133],[5.1,137.7],[5,138.6],[24.1,123.1],[24.5,124.6],[23.7,126.8],[25.3,128.6],[27.4,130.6],[27.9,133],[29.6,134.3],[30.4,135.3],[33.8,136],[37.1,135],[40.5,142.5],[43,143.5],[44.3,144.7],[45.6,142.2],[46.4,140.3],[49.7,135.7],[50.5,133.7],[54.4,137.5],[53.5,136],[57.3,140],[58.6,143.7],[59.9,146],[61.8,147],[63.2,145.7],[64.9,142.3],[68.3,138.7],[69.6,137],[73.7,133.6],[75.8,133.3],[77.5,127.8],[78.8,126.1],[78.4,125.8],[79.6,125.9],[81.3,132.6],[82.2,133.8],[83.8,135.7],[88.4,135.3],[91,141.8],[93.5,143.8],
[5,142.5],[3,142],[7.5,146],[11,141],[15,136],[16,135],[31,133.5],[32,135],[36,136.5],[42,142],[43,141.5],[44.5,143],[44,142.5],[46,141.5],[47,139],[48,137.5],[49,136.5],[56,139],[58,142],[60.5,144],[59,145],[61,145.5],[62,146],[63,144],[64,143],[66,140],[67,139],[71,136],[72,134],[74,133],[85,134.5],[86,136],[87,134],[89,137.5],[90,139],[92,142],[93,141],
[95,143.5],[94.5,142],[96.5,140.8],[99.8,137.7],[97.6,135],[102,135],[105,137.3],[106.9,138],[107.3,142.2],[108.2,143.5],[107.7,144.3],[109,145.7],[110.7,146.2],[111.5,144.8],[110,144.5],[113.2,140],[114.5,138.3],[116.2,135.3],[117,133],[119,134.3],[118.7,131.7],[121.2,129.8],[126,125.8],[128,126],[126.3,124.3],[127,124.4],[134.7,136.3],[131.3,135],[134.7,131.3],[136.4,136.3],[137.2,139.3],[139.7,141.8],[141.4,143.7],[142.7,144.3],[143.5,141.8],[138,141],[139,140.5],[142,141.5],[140.5,141],[145.6,135.3],[148,131.7],[147.5,132.5],[148.5,129.6],[149.4,133.4],[149.8,137.2],[153.2,137.6],[155,138],[156.2,143.3],[157,145],[157.5,145.6],[159.5,146.2],[158.5,146],[160,120.3],[161.7,119.8],[160.9,118.3],[161.7,117.3],[163.3,117.5],[163.3,116],[163.7,115.5],[164.6,114],[165.4,139.7],[166.2,138.3],[167.5,136.3],[168.4,134],[170.9,133.6],[172.6,132.6],[171.5,133],[173.8,131],[172,132],[173,131.5],[175.5,128.6],[176,127.6],[178,126.8],[176.6,125.2],[143,136],[146,135],[147,134.3],[150,134.5],[152,136],
[1.5,140.5],[2.5,139.5],[4,139.5],[6,141],[6.5,143],[8,145],[9.5,143],[10.5,141.5],[11.5,139.5],[12.5,138.5],[14,135.5],[15,134.5],[16.5,134],[18.5,133],[19.5,132.5],[21,132],[22,131.5],[24.5,127],[26,129.5],[27,131.5],[28.5,133.5],[29,131.5],[31,135],[33,134.5],[35,135.5],[35.5,133],[37,136.5],[38,138],[39,140],[40,141],[41.5,143],[44,141],[46,139],[47,137],[48,136],[49,134],[51,134],[52,136],[55,138],[56,140.5],[57,142],[60,143],[62,144.5],[63.5,143],[65,141],[65.5,139.5],[67,137.5],[68,136.5],[70,135.5],[72,135],[75,134],[76,131],[77,129.5],[83,134.5],[85,136.5],[87,136.5],[89,136],[90,137.5],[92,140],[93,142.5],
[98,139],[98.5,136],[100,135],[101,136.5],[103,135.5],[104,136.5],[105,135],[106,136.5],[109,144],[109.5,143],[112,142.5],[112.5,141],[115,137],[115.5,135.5],[117.5,135],[118,133.5],[119.5,132.5],[120,133.5],[121.5,131.5],[122.5,130],[123,129],[124,128],[133,134],[132,133],[135,138],[136,134],[138,139.5],[139,142.5],[140,142],[141,142.5],[144,142.5],[144.5,141],[146.5,135],[148.5,134],[151,136.5],[152.5,138.5],[154,137],[156,139],[154.5,136],[169,134.5],[170,134.5],[171,134],[174,130],[174.5,129.5],[175,131]];
var outerSeis21 = [[0,133.6],[0.9,135],[2.2,136],[4.7,136.8],[4.3,142.5],[6.1,143.2],[7.9,145.2],[7.9,143],[9.8,141],[10.6,138],[12.3,135.5],[14.4,134],[15.2,132],[15.6,130],[17.8,128.6],[20.3,129.3],[22.4,136.3],[22.8,134.3],[22,133.6],[24.5,130.6],[27,128],[27.9,126],[28.7,125.3],[25.3,125],[27.1,124.3],[25.8,121.6],[26.9,122.2],[30.4,130.3],[32.9,130.6],[34.2,133.3],[35.9,132.3],[36.7,137],[37.1,139],[37.5,140.7],[40.5,138],[42.2,139.7],[44.3,139],[44.7,136],[46.4,135],[46.4,133.3],[46.8,131.6],[48.9,130.6],[50.6,129.6],[49.7,126.8],[49.3,128.3],[51.9,128],[54,130],[54.8,132.6],[57.3,135],[58.6,137.3],[60.3,140.7],[62.4,145],[62,142.8],[64,143.7],[64.5,140],[66.2,138],[67,135.5],[69.1,134],[70.4,132],[70.4,129.8],[72.5,128.3],[75.8,132.5],[76.7,135.2],[77.1,136],[78,130.6],[79.6,128],[82.2,125.8],[83.4,126.8],[81.3,123],[80.5,121.7],[84.7,130],[86.8,132],[88.5,134],[90.2,133],[91,136.7],[91.8,140.7],[93.5,139.3],
[0.5,132.8],[1,134],[3,136.5],[3.5,139],[4,141],[5,142],[5.5,143.5],[6.5,142.5],[7,144],[8,142],[8.5,141],[9.3,139.5],[11,137],[13,135],[14,133],[15,131],[16,131.5],[17,130],[18,131.5],[19,130.5],[20,131],[21,132],[23,131],[23.5,129.5],[24,128.5],[25,127.5],[26,126],[28,127],[29,129],[30,128.5],[31,131],[32,133],[33,133.5],[35,134],[38,138],[39,139],[41,139.5],[43,140],[45,137.5],[46,136],[47.5,130.5],[48,131.5],[50,131],[50,128],[51,130.5],[52,130],[53,131],[55,134],[56,135],[59,138.5],[61,141.5],[62.5,143],[63,141],[65,139],[68,134.5],[69,132.5],[71,131],[72,130.5],[73,130],[74,129.5],[76,129.5],[77,129],[78,128],[81,126.5],[82,127],[85,131],[87,131],[89,134.5],[92,138.5],[93,137],
[98.5,140],[96,139],[99.3,137.8],[101.4,136],[99.3,133.8],[100.5,133],[102.7,132.6],[100.6,130.6],[102.7,131.6],[105.2,130.3],[103.1,128],[103.1,127],[106.9,128.3],[108.2,130.6],[108.2,132],[110.3,133.3],[108.9,134.6],[111.1,136.3],[111.5,138.7],[112.4,142],[114.5,143.8],[115.7,146.2],[116,144.7],[117,143],[117.9,141.2],[118.7,139.3],[119.5,137.3],[120.8,136],[122,133.6],[123.3,132],[126.3,131],[128,132],[130.5,130.6],[130.5,136.3],[130.5,134.3],[132.6,128],[135.5,125],[135.9,126.8],[134.3,123.4],[133.4,122.3],[133,121.3],[137.2,128.7],[138,131],[141.4,134.6],[142.3,132.6],[143.5,134],[144,136],[144.4,137.3],[145.2,141],[146.5,139.3],[149,140.3],[151.9,140.7],[149.5,139],[152.4,136],[154.5,134.3],[152.8,132],[154.5,130.6],[156.6,129],[157,127],[157.2,126.5],[159.5,130.8],[161.6,130.8],[161.2,128.8],[159,128.5],[162.5,134.3],[163.3,135.8],[165.8,137.7],[166.2,141.2],[166.7,142],[168.8,142.8],[171.3,143],[170,145],[171.5,141.3],[172.5,140],[174.8,137.8],[174.5,136.2],[175.8,134],[177.7,131],[181.8,132.4],[183.5,132],[186.4,131.5],[179.3,129.5],[182.2,130],[186.9,129],[184.3,136.9],[187.3,124],[189.2,124.1],[187.7,122],[188,122.4],[180,131.5],[181,131],[182.5,131.5],[184,131.7],[185,131.6],[178.5,131.3],[176.5,132.8],
[97,140.5],[95,141],[100,135.5],[104,130.5],[104.5,129],[106,129.5],[107,131],[112,140],[113,141.5],[115,143],[116,142],[118,140],[120,137],[121,135],[124,131],[125,130],[127,130.5],[129,130],[131,132],[132,129.5],[134,126],[136,124.5],[136.5,127.5],[139,132],[140,133],[143,133],[145,139.5],[147,140],[148,141],[150,138.5],[151,137],[153,134],[155,132],[158,131],[164,136.5],[167,140],[173,139],
[0.5,131.5],[1.5,136],[2.5,137.5],[4,138.5],[6,140.5],[7.5,141],[9,142.5],[10,139.5],[11.5,135.5],[12.5,133.5],[14,131.5],[15,129.5],[16,129],[17,132],[18,128.7],[19,129.3],[20,132.5],[21,130],[22,129.5],[23,128.5],[24,127],[26,124.5],[28,125.5],[29.5,127],[31,129.5],[32,130],[33,131.5],[34,131],[35,133],[36,135],[37,133.5],[38,136],[39,137],[40,139.5],[41,138],[42,141],[43,138.5],[44,137.5],[45,134.5],[47,134],[47.5,132.5],[48.5,129],[49,127.5],[50.5,127.3],[51,129],[52,131.5],[53,132.5],[54,133],[55.5,135.5],[56.5,137],[57.5,138],[59,139.5],[60,142],[61,142.5],[62,141],[63,139.5],[64,138.5],[65,137],[66,136],[67,134],[68,132.5],[69,131],[70,130.5],[71,129.5],[72,129],[73,131],[74,131],[75,130.5],[76,127.8],[77,128],[78,127],[83,128],[84,128.5],[85,129],[86,130],[87,133],[88,132.5],[89,132],[90,135],[91,135],[92,137],[93,141],[94,140],[95,138.5],[96,137],[97,136.5],[98,135],[99,132],[100,132],[101,133],[102,130],[103,129],[104,128],[105,127.5],[106,130.7],[107,129.3],[108,128.5],[109,131.5],[110,132],[111,134.5],[112,136.5],[113,140],[114,142],[115,140.5],[116,140],[117,139],[118,137.5],[119,135.5],[120,134],[121,132.5],[122,131.5],[123,130.5],[124,129.5],[125,131.5],[126,129],[127,129],[128,130.5],[129,131.5],[130,129],[131,130],[132,126.5],[133,127],[134,125],[135,127],[136,129],[137,127],[138,129.5],[139,129.5],[140,132],[141,132],[142,135],[143,137],[144,139],[145,137.5],[146,137.5],[147,138.5],[148,138],[149,137],[150,137],[151,139],[152,138.5],[153,136.5],[154,133],[155,133.5],[156,131],[157,129],[158,130],[160,129],[161,131.5],[162,132],[163,133],[164,134.5],[165,135],[166,139],[167,138],[168,141],[169,141.5],[170,143],[172,142],[173,137.5],[174,139],[175,136],[176,135],[179,131],[180,130],[181,129.8],[182,132],[183,131],[185,130.5],[186,132],[183.5,130],[184.5,129.5]];
var outerBoat21Line = [[4.3,132],[6.4,126.6],[8.5,122],[10.6,116.3],[13,108.7],[15.2,107],[17.8,109],[21.5,113],[25.3,113],[29.5,109],[33,107],[38.8,106.5],[45,108.5],[55,110.5],[65,111],[75,113.5],[81,112],[83.4,109.5],[84.3,106.3],[89.3,106],[95,106.5],[105,109],[115,108],[125,108.5],[131,113],[134,113.5],[137,110],[141,107.5],[147,108],[153,111.5],[158,108.5],[165,107.5],[172,107],[178,109],[184,112.5],[188,112.5]];
var outerSeis20Line = [[0,109.6],[0.5,117],[1.3,129],[3,136.7],[5.1,140.7],[8.7,145],[11,140.7],[13.6,136.7],[15.2,133.6],[19.4,132.3],[21.5,131],[23.7,128.3],[26.2,126.3],[27.9,130.6],[31.2,134.3],[36.3,134.3],[38.8,138.3],[42.2,141.7],[44.3,141.8],[46.4,138.3],[49.7,135.7],[51.4,133],[54.8,135.7],[58.2,139.7],[60.7,143.3],[64,143.3],[66.6,139.7],[70,135.7],[73.3,132.3],[76.7,130],[79.2,129.3],[81.7,131.3],[85,133.3],[88.4,135.3],[92.7,141],[94.3,140.7],[96.8,139],[99.3,136.3],[101.9,134.3],[104.4,137.7],[107,141.3],[110.3,143.7],[112.4,142.3],[114.5,139.3],[117,135],[120.4,131],[123.7,129],[126.7,127.6],[129.6,129.6],[133.8,135],[137.2,138.3],[140.6,141.7],[143,140.3],[145.6,138],[149,134.3],[152.4,136.7],[152.8,138.3],[153.2,140.3],[156.2,140.3],[158.7,136.3],[159.5,130.6],[160.4,125.6],[162.9,121.3],[165.4,125],[167.5,131.6],[168.4,133.6],[167,136.5],[170,135.3],[172.6,134],[175,130.3],[177,127.3],[178.9,123.6]];
var outerSeis21Line = [[0,132],[3,137.3],[6,141.7],[8.5,144.3],[10.6,140.7],[12.7,136.3],[15.2,133],[19.4,132],[22,131.6],[24.5,129],[26.6,126.6],[29.5,129.3],[32,131],[36.3,134.3],[38.8,138],[42.2,140.3],[43.9,139],[46.4,136],[48.9,132],[51.4,131.3],[54.8,134],[58.2,138],[60.7,141.3],[64,140.3],[66.6,137.3],[70,133.3],[75,130],[79.2,128],[83.4,127.6],[86.8,131.3],[91,139],[94,140],[99.3,136],[102.7,131],[107,130],[111,138],[114.5,142.3],[117.8,141.7],[120.4,136],[123.7,132],[128,129.3],[132,129.3],[136.4,127.3],[139,130.6],[144,137.3],[148,140],[152.4,136.7],[156.7,131.7],[160.8,131],[165,135.6],[169.2,140.3],[173.4,137],[178.4,133.6],[183.5,130],[189,125.5]];
var outerSilent21Line = [[10,107],[13.4,106.3],[22,106.6],[30.4,105.5],[40.5,106.5],[60,105.6],[82.6,106.2],[94.4,105.2],[120,105.2],[139.7,105],[146.5,105.5],[151.5,105.8],[154.9,108.8],[157,109.9],[160.7,107.5],[164,105.5],[166.7,106.3],[170,105.8],[173.4,105.2],[175.5,107.2],[177.6,110.9],[180,117.7]];

var innerPoints = [[innerSilent21, 5], [innerBoat20, 1], [innerSilent20, 4], [innerBoat21, 0], [innerSeis20, 2], [innerSeis21, 3]];
var innerLines = [[innerBoat21Line, 0], [innerBoat20Line, 1], [innerSeis20Line, 2], [innerSeis21Line, 3], [innerSilent20Line, 4], [innerSilent21Line, 5]];
var outerPoints = [[outerSilent21, 3], [outerBoat21, 0], [outerSeis20, 1], [outerSeis21, 2]];
var outerLines = [[outerBoat21Line, 0], [outerSeis20Line, 1], [outerSeis21Line, 2], [outerSilent21Line, 3]];

var svg = d3.select("body").append("svg").attr("width", 1232).attr("height", 1140);

// one ggplot style panel
function drawPanel(opt) {
  var x = d3.scaleLinear().domain([0, opt.xAt[1]]).range([opt.x0, opt.xAt[0]]);
  var y = d3.scaleLinear().domain([opt.yVal[0], opt.yVal[1]]).range([opt.yAt[0], opt.yAt[1]]);
  var g = svg.append("g");
  g.append("rect").attr("x", opt.left).attr("y", opt.top).attr("width", opt.right - opt.left).attr("height", opt.bottom - opt.top).attr("fill", "#EBEBEB");

  // grid lines
  g.selectAll(".xm").data(opt.xMinor).enter().append("line").attr("x1", x).attr("x2", x).attr("y1", opt.top).attr("y2", opt.bottom).attr("stroke", "#fff").attr("stroke-width", 1);
  g.selectAll(".ym").data(opt.yMinor).enter().append("line").attr("y1", y).attr("y2", y).attr("x1", opt.left).attr("x2", opt.right).attr("stroke", "#fff").attr("stroke-width", 1);
  g.selectAll(".xj").data(opt.xTicks).enter().append("line").attr("x1", x).attr("x2", x).attr("y1", opt.top).attr("y2", opt.bottom).attr("stroke", "#fff").attr("stroke-width", 2);
  g.selectAll(".yj").data(opt.yTicks).enter().append("line").attr("y1", y).attr("y2", y).attr("x1", opt.left).attr("x2", opt.right).attr("stroke", "#fff").attr("stroke-width", 2);

  // points then smooth lines on top
  opt.points.forEach(function(s) {
    g.append("g").selectAll("circle").data(s[0]).enter().append("circle")
      .attr("cx", function(d) { return x(d[0]); })
      .attr("cy", function(d) { return y(d[1]); })
      .attr("r", 6)
      .attr("fill", opt.colours[s[1]]);
  });
  var line = d3.line().x(function(d) { return x(d[0]); }).y(function(d) { return y(d[1]); });
  opt.lines.forEach(function(s) {
    g.append("path").datum(s[0]).attr("d", line).attr("fill", "none").attr("stroke", opt.colours[s[1]]).attr("stroke-width", 5).attr("stroke-linejoin", "round");
  });

  // axes
  var ax = g.append("g").attr("transform", "translate(0," + opt.bottom + ")")
    .call(d3.axisBottom(x).tickValues(opt.xTicks).tickSize(7).tickPadding(8));
  var ay = g.append("g").attr("transform", "translate(" + opt.left + ",0)")
    .call(d3.axisLeft(y).tickValues(opt.yTicks).tickSize(7).tickPadding(8));
  [ax, ay].forEach(function(a) {
    a.select(".domain").remove();
    a.selectAll("line").attr("stroke", "#333").attr("stroke-width", 2);
    a.selectAll("text").attr("font-size", 25.5);
  });
}

drawPanel({
  left: 126, right: 953, top: 4, bottom: 482,
  x0: 164.5, xAt: [841, 200], yVal: [110, 130], yAt: [372, 89],
  xTicks: innerXTicks, xMinor: innerXMinor, yTicks: innerYTicks, yMinor: innerYMinor,
  points: innerPoints, lines: innerLines, colours: innerColours
});
drawPanel({
  left: 128, right: 955, top: 552, bottom: 1030,
  x0: 166.5, xAt: [760.5, 150], yVal: [110, 140], yAt: [946, 647],
  xTicks: outerXTicks, xMinor: outerXMinor, yTicks: outerYTicks, yMinor: outerYMinor,
  points: outerPoints, lines: outerLines, colours: outerColours
});

// legends
function drawLegend(cats, cols, rx, ry, rh, firstY, step) {
  var g = svg.append("g");
  g.append("rect").attr("x", rx).attr("y", ry).attr("width", 51).attr("height", rh).attr("fill", "#F2F2F2");
  cats.forEach(function(c, i) {
    var cy = firstY + i * step;
    g.append("line").attr("x1", rx + 5).attr("x2", rx + 46).attr("y1", cy).attr("y2", cy).attr("stroke", cols[i]).attr("stroke-width", 5.5);
    g.append("circle").attr("cx", rx + 25.5).attr("cy", cy).attr("r", 6).attr("fill", cols[i]);
    g.append("text").attr("class", "leg").attr("x", rx + 67).attr("y", cy + 9.5).text(c);
  });
}
drawLegend(innerCategories, innerColours, 972, 166, 302, 191.5, 50.3);
drawLegend(outerCategories, outerColours, 967, 828, 202, 854, 50.6);

// panel titles and axis titles
svg.append("text").attr("class", "big").attr("x", 129).attr("y", 65).attr("font-size", 49.5).text("a) Inner bay");
svg.append("text").attr("class", "big").attr("x", 129).attr("y", 574).attr("font-size", 49.5).text("b) Outer bay");
svg.append("text").attr("class", "big").attr("x", 544).attr("y", 1129).attr("font-size", 50.5).attr("text-anchor", "middle").text("Time (min)");
var yl = svg.append("text").attr("class", "big").attr("transform", "translate(52,511) rotate(-90)").attr("font-size", 48).attr("text-anchor", "middle");
yl.append("tspan").text("SEL (dB re1\u03BCPa");
yl.append("tspan").attr("dy", -16).attr("font-size", 30).text("2");
yl.append("tspan").attr("dy", 16).text("s)");

// red arrows
var red = "#C00000";
function arrow(x1, y1, x2, y2) {
  var a = Math.atan2(y2 - y1, x2 - x1), len = 18, half = 9;
  var bx = x2 - len * Math.cos(a), by = y2 - len * Math.sin(a);
  svg.append("line").attr("x1", x1).attr("y1", y1).attr("x2", bx).attr("y2", by).attr("stroke", red).attr("stroke-width", 2.6);
  svg.append("polygon").attr("fill", red).attr("points", [
    [x2, y2],
    [bx - half * Math.sin(a), by + half * Math.cos(a)],
    [bx + half * Math.sin(a), by - half * Math.cos(a)]
  ].join(" "));
}
arrow(1232, 121, 897, 122);
arrow(1232, 508, 857, 726);

// institute logo, cut off by the plot area
var defs = svg.append("defs");
defs.append("clipPath").attr("id", "logoClip").append("rect").attr("x", 0).attr("y", 860).attr("width", 62).attr("height", 220);
defs.append("path").attr("id", "arcTop").attr("d", "M10,973 A60,60 0 0 1 130,973");
defs.append("path").attr("id", "arcBottom").attr("d", "M-5,973 A75,75 0 0 0 145,973");
var logo = svg.append("g").attr("clip-path", "url(#logoClip)");
logo.append("circle").attr("cx", 70).attr("cy", 973.5).attr("r", 94).attr("fill", "#14336F");
logo.append("circle").attr("cx", 70).attr("cy", 973.5).attr("r", 85).attr("fill", "none").attr("stroke", "#fff").attr("stroke-width", 2.5);
logo.append("path").attr("d", "M16,949 A59,59 0 0 0 24,1011").attr("fill", "none").attr("stroke", "#1FA5A8").attr("stroke-width", 2);
logo.append("text").attr("font-family", "Lato").attr("font-size", 18).attr("fill", "#fff").attr("letter-spacing", 3)
  .append("textPath").attr("href", "#arcTop").attr("startOffset", "9%").text("HAVFO");
logo.append("text").attr("font-family", "Lato").attr("font-size", 18).attr("fill", "#fff").attr("letter-spacing", 3)
  .append("textPath").attr("href", "#arcBottom").attr("startOffset", "22%").text("INST");
logo.append("polygon").attr("points", "32,1002 62,952 92,1002").attr("fill", "#fff");
[978, 983, 988, 993, 998].forEach(function(yy) {
  logo.append("line").attr("x1", 30).attr("x2", 62).attr("y1", yy).attr("y2", yy).attr("stroke", "#7E8FB5").attr("stroke-width", 1.5);
});
logo.append("polygon").attr("points", "33,956 46,968 62,958 62,965 46,974 33,978").attr("fill", "#fff").attr("stroke", "#14336F").attr("stroke-width", 1);
</script>
</body>
</html>
